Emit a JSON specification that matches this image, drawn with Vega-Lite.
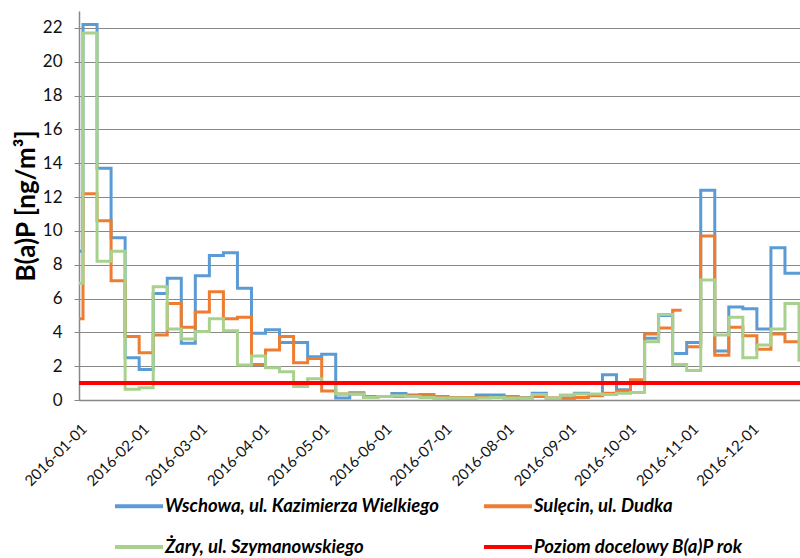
{
  "$schema": "https://vega.github.io/schema/vega-lite/v6.json",
  "width": 721,
  "height": 389,
  "autosize": {"type": "none"},
  "padding": {"left": 79, "top": 11, "right": 0, "bottom": 158},
  "background": "white",
  "config": {
    "font": "Lato",
    "view": {"stroke": null},
    "axis": {"labelFont": "Lato", "titleFont": "Lato", "labelColor": "#111", "titleColor": "#000"}
  },
  "encoding": {
    "x": {
      "field": "date", "type": "temporal",
      "scale": {"domain": [{"year": 2016, "month": 1, "date": 1}, {"year": 2016, "month": 12, "date": 25, "hours": 12}]},
      "axis": {
        "title": null, "format": "%Y-%m-%d", "labelAngle": -45, "labelOverlap": false,
        "tickCount": {"interval": "month", "step": 1}, "grid": false, "ticks": false,
        "domainColor": "#888", "domainWidth": 1.5, "labelFontSize": 15, "labelPadding": 21, "labelDx": -5
      }
    },
    "y": {
      "field": "value", "type": "quantitative",
      "scale": {"domain": [0, 23], "nice": false},
      "axis": {
        "title": "B(a)P [ng/m³]", "titleFontSize": 26, "titleFontWeight": "bold", "titlePadding": 3,
        "values": [0, 2, 4, 6, 8, 10, 12, 14, 16, 18, 20, 22], "labelOverlap": false,
        "gridColor": "#888", "gridWidth": 1.2, "domainColor": "#888", "domainWidth": 1.5,
        "tickColor": "#888", "tickSize": 5, "labelFontSize": 17, "labelPadding": 12
      }
    },
    "color": {
      "field": "series", "type": "nominal",
      "scale": {"domain": ["W", "S", "Z", "P"], "range": ["#5B9BD5", "#ED7D31", "#A9D18E", "#FF0000"]},
      "legend": {
        "orient": "none", "legendX": 34, "legendY": 469, "direction": "horizontal", "columns": 2,
        "title": null, "symbolType": "stroke", "symbolSize": 2304, "symbolStrokeWidth": 4,
        "labelFont": "Lato", "labelFontSize": 18.5, "labelFontStyle": "italic", "labelFontWeight": "bold",
        "labelColor": "#000", "labelLimit": 0, "labelOffset": 0, "columnPadding": 36, "rowPadding": 5,
        "labelExpr": "datum.label == 'W' ? 'Wschowa, ul. Kazimierza Wielkiego' : datum.label == 'S' ? 'Sulęcin, ul. Dudka' : datum.label == 'Z' ? 'Żary, ul. Szymanowskiego' : 'Poziom docelowy B(a)P rok'"
      }
    }
  },
  "layer": [
    {
      "data": {
        "values": [
          {"date": "2016-01-01T00:00:00", "W": 8.8, "S": 4.8, "Z": 6.9},
          {"date": "2016-01-03T00:00:00", "W": 22.2, "S": 12.2, "Z": 21.7},
          {"date": "2016-01-10T00:00:00", "W": 13.7, "S": 10.6, "Z": 8.2},
          {"date": "2016-01-17T00:00:00", "W": 9.6, "S": 7.05, "Z": 8.8},
          {"date": "2016-01-24T00:00:00", "W": 2.5, "S": 3.75, "Z": 0.63},
          {"date": "2016-01-31T00:00:00", "W": 1.8, "S": 2.8, "Z": 0.73},
          {"date": "2016-02-07T00:00:00", "W": 6.3, "S": 3.85, "Z": 6.7},
          {"date": "2016-02-14T00:00:00", "W": 7.2, "S": 5.7, "Z": 4.2},
          {"date": "2016-02-21T00:00:00", "W": 3.35, "S": 4.3, "Z": 3.6},
          {"date": "2016-02-28T00:00:00", "W": 7.35, "S": 5.2, "Z": 4.05},
          {"date": "2016-03-06T00:00:00", "W": 8.55, "S": 6.4, "Z": 4.8},
          {"date": "2016-03-13T00:00:00", "W": 8.7, "S": 4.8, "Z": 4.1},
          {"date": "2016-03-20T00:00:00", "W": 6.6, "S": 4.9, "Z": 2.07},
          {"date": "2016-03-27T00:00:00", "W": 3.95, "S": 2.1, "Z": 2.6},
          {"date": "2016-04-03T00:00:00", "W": 4.15, "S": 2.95, "Z": 1.9},
          {"date": "2016-04-10T00:00:00", "W": 3.4, "S": 3.75, "Z": 1.67},
          {"date": "2016-04-17T00:00:00", "W": 3.4, "S": 2.2, "Z": 0.8},
          {"date": "2016-04-24T00:00:00", "W": 2.55, "S": 2.45, "Z": 1.25},
          {"date": "2016-05-01T00:00:00", "W": 2.7, "S": 0.53, "Z": 1.05},
          {"date": "2016-05-08T00:00:00", "W": 0.12, "S": 0.35, "Z": 0.35},
          {"date": "2016-05-15T00:00:00", "W": 0.43, "S": 0.35, "Z": 0.35},
          {"date": "2016-05-22T00:00:00", "W": 0.15, "S": 0.2, "Z": 0.15},
          {"date": "2016-05-29T00:00:00", "W": 0.2, "S": 0.2, "Z": 0.2},
          {"date": "2016-06-05T00:00:00", "W": 0.38, "S": 0.2, "Z": 0.25},
          {"date": "2016-06-12T00:00:00", "W": 0.3, "S": 0.25, "Z": 0.2},
          {"date": "2016-06-19T00:00:00", "W": 0.2, "S": 0.33, "Z": 0.15},
          {"date": "2016-06-26T00:00:00", "W": 0.12, "S": 0.2, "Z": 0.12},
          {"date": "2016-07-03T00:00:00", "W": 0.1, "S": 0.15, "Z": 0.12},
          {"date": "2016-07-10T00:00:00", "W": 0.1, "S": 0.15, "Z": 0.12},
          {"date": "2016-07-17T00:00:00", "W": 0.3, "S": 0.15, "Z": 0.12},
          {"date": "2016-07-24T00:00:00", "W": 0.3, "S": 0.15, "Z": 0.15},
          {"date": "2016-07-31T00:00:00", "W": 0.12, "S": 0.2, "Z": 0.12},
          {"date": "2016-08-07T00:00:00", "W": 0.15, "S": 0.12, "Z": 0.12},
          {"date": "2016-08-14T00:00:00", "W": 0.4, "S": 0.2, "Z": 0.33},
          {"date": "2016-08-21T00:00:00", "W": 0.1, "S": 0.12, "Z": 0.1},
          {"date": "2016-08-28T00:00:00", "W": 0.12, "S": 0.1, "Z": 0.3},
          {"date": "2016-09-04T00:00:00", "W": 0.4, "S": 0.15, "Z": 0.35},
          {"date": "2016-09-11T00:00:00", "W": 0.3, "S": 0.25, "Z": 0.35},
          {"date": "2016-09-18T00:00:00", "W": 1.5, "S": 0.4, "Z": 0.33},
          {"date": "2016-09-25T00:00:00", "W": 0.6, "S": 0.55, "Z": 0.4},
          {"date": "2016-10-02T00:00:00", "W": 1.1, "S": 1.2, "Z": 0.45},
          {"date": "2016-10-09T00:00:00", "W": 3.65, "S": 3.9, "Z": 3.45},
          {"date": "2016-10-16T00:00:00", "W": 5.0, "S": 4.25, "Z": 5.05},
          {"date": "2016-10-23T00:00:00", "W": 2.75, "S": 5.3, "Z": 2.1},
          {"date": "2016-10-27T12:00:00", "W": 2.75, "S": 5.3, "Z": 2.1},
          {"date": "2016-10-28T00:00:00", "W": 2.75, "S": null, "Z": 2.1},
          {"date": "2016-10-30T00:00:00", "W": 3.4, "S": 3.15, "Z": 1.75},
          {"date": "2016-11-06T00:00:00", "W": 12.4, "S": 9.7, "Z": 7.1},
          {"date": "2016-11-13T00:00:00", "W": 2.9, "S": 2.65, "Z": 3.85},
          {"date": "2016-11-20T00:00:00", "W": 5.5, "S": 4.3, "Z": 4.9},
          {"date": "2016-11-27T00:00:00", "W": 5.4, "S": 3.8, "Z": 2.5},
          {"date": "2016-12-04T00:00:00", "W": 4.2, "S": 3.0, "Z": 3.25},
          {"date": "2016-12-11T00:00:00", "W": 9.0, "S": 3.9, "Z": 4.2},
          {"date": "2016-12-18T00:00:00", "W": 7.5, "S": 3.45, "Z": 5.7},
          {"date": "2016-12-25T00:00:00", "W": 7.5, "S": 3.45, "Z": 2.35},
          {"date": "2016-12-31T00:00:00", "W": 7.5, "S": 3.45, "Z": 2.35}
        ]
      },
      "transform": [{"fold": ["W", "S", "Z"], "as": ["series", "value"]}],
      "mark": {"type": "line", "interpolate": "step-after", "strokeWidth": 3, "clip": true, "invalid": "break-paths-show-domains"}
    },
    {
      "data": {
        "values": [
          {"date": "2016-01-01T00:00:00", "series": "P", "value": 1},
          {"date": "2016-12-31T00:00:00", "series": "P", "value": 1}
        ]
      },
      "mark": {"type": "line", "strokeWidth": 4, "clip": true}
    }
  ]
}
